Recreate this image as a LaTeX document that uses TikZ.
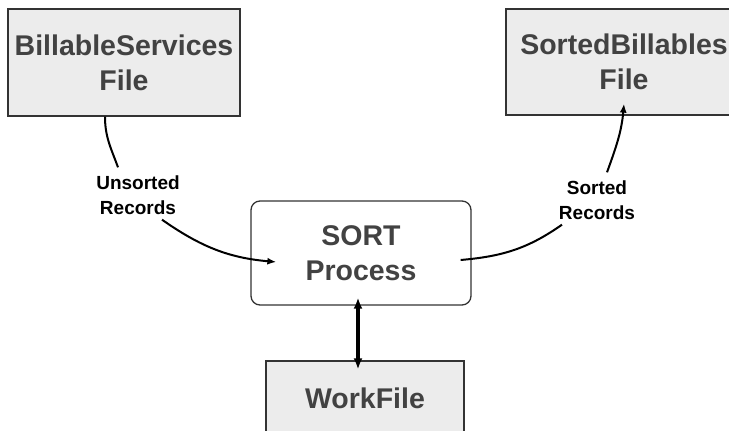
\documentclass[tikz,border=0pt]{standalone}
\usepackage{fontspec}
\setmainfont{Liberation Sans}
\usetikzlibrary{arrows.meta,positioning}
\definecolor{boxgray}{HTML}{ECECEC}
\definecolor{txtgray}{HTML}{424242}

\begin{document}
\begin{tikzpicture}[x=1pt,y=1pt,>={Latex[length=9pt,width=7pt]},
  filebox/.style={draw=black!80,line width=1.3pt,fill=boxgray,inner sep=0pt,align=center,text=txtgray,font=\bfseries\fontsize{28.5}{35}\selectfont},
  procbox/.style={filebox,fill=white,rounded corners=9pt},
  lbl/.style={align=center,inner sep=2pt,font=\bfseries\fontsize{19}{25}\selectfont},
  flow/.style={->,line width=2pt}]
  \useasboundingbox (0,0) rectangle (729,431);
  \node[filebox,minimum width=232pt,minimum height=107pt] (bill) at (124,368.5) {BillableServices\\File};
  \node[filebox,minimum width=236pt,minimum height=106pt] (sorted) at (624,369) {SortedBillables\\File};
  \node[procbox,minimum width=220pt,minimum height=104pt] (sort) at (361,178) {SORT\\Process};
  \node[filebox,minimum width=198pt,minimum height=75pt] (work) at (365,32.5) {WorkFile};
  \node[lbl] (unsorted) at (138,236) {Unsorted\\Records};
  \node[lbl] (sortedrec) at (597,231) {Sorted\\Records};
  \draw[line width=2pt] ([xshift=-19pt]bill.south) to[out=-90,in=110] ([xshift=-20pt,yshift=6pt]unsorted.north);
  \draw[flow] ([xshift=24pt,yshift=-3pt]unsorted.south) to[out=-35,in=175] ([xshift=26pt,yshift=-9pt]sort.west);
  \draw[line width=2pt] ([xshift=-11pt,yshift=-7pt]sort.east) to[out=5,in=-145] ([xshift=-35pt,yshift=-3pt]sortedrec.south);
  \draw[flow] ([xshift=10pt,yshift=6pt]sortedrec.north) to[out=70,in=-95] ([yshift=12pt]sorted.south);
  \draw[<->,line width=3.2pt,>={Latex[length=11pt,width=9pt]},shorten <=-8pt,shorten >=-9pt] ([xshift=-3pt]sort.south) -- ([xshift=-7pt]work.north);
\end{tikzpicture}
\end{document}
